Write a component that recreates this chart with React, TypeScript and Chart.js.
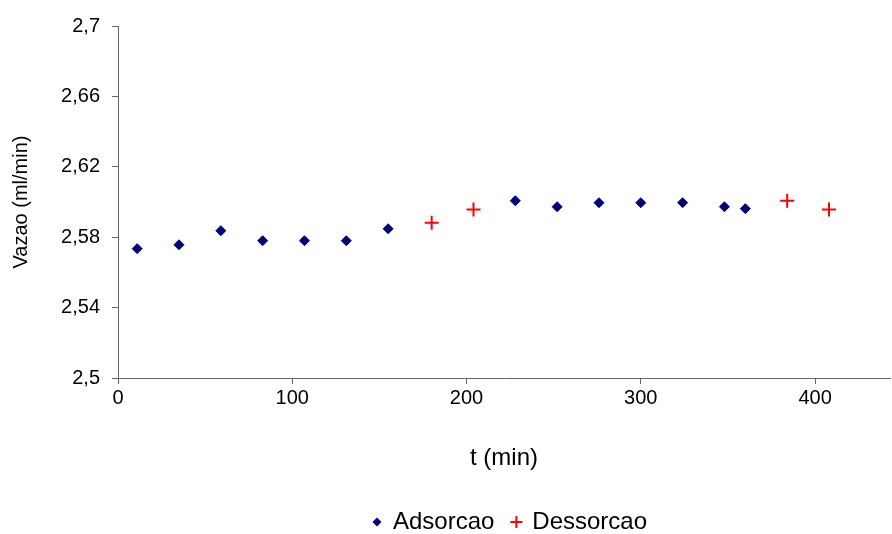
import React, { useEffect, useRef } from "react";
import { Chart, registerables } from "chart.js";

Chart.register(...registerables);

// Flow rate readings (ml/min) against time (min)
const ADS_T = [11, 35, 59, 83, 107, 131, 155, 228, 252, 276, 300, 324, 348, 360];
const ADS_V = [2.5735, 2.5757, 2.5837, 2.578, 2.578, 2.578, 2.5848, 2.6007, 2.5973, 2.5996, 2.5996, 2.5996, 2.5973, 2.5962];
const DES_T = [180, 204, 384, 408];
const DES_V = [2.5882, 2.5958, 2.6007, 2.5958];

const X_TICKS = [0, 100, 200, 300, 400];
const Y_TICKS = [2.5, 2.54, 2.58, 2.62, 2.66, 2.7];

const FONT = "'Liberation Sans', Arial, sans-serif";
const NAVY = "#000080";
const RED = "#ff0000";

function diamondMarker(): HTMLCanvasElement {
  const c = document.createElement("canvas");
  c.width = 10;
  c.height = 10;
  const g = c.getContext("2d")!;
  g.fillStyle = NAVY;
  g.beginPath();
  g.moveTo(5, 0.5);
  g.lineTo(9.5, 5);
  g.lineTo(5, 9.5);
  g.lineTo(0.5, 5);
  g.closePath();
  g.fill();
  return c;
}

function plusMarker(): HTMLCanvasElement {
  const c = document.createElement("canvas");
  c.width = 14;
  c.height = 14;
  const g = c.getContext("2d")!;
  g.strokeStyle = RED;
  g.lineWidth = 2;
  g.beginPath();
  g.moveTo(7, 1);
  g.lineTo(7, 13);
  g.moveTo(1, 7);
  g.lineTo(13, 7);
  g.stroke();
  return c;
}

// Centre the legend under the plot area rather than the whole canvas
const legendShift = {
  id: "legendShift",
  afterLayout(chart: any) {
    const lg = chart.legend;
    if (lg) {
      lg.left = chart.chartArea.left + 6;
      lg.right = chart.chartArea.right + 6;
    }
  },
};

export default function App() {
  const ref = useRef<HTMLCanvasElement>(null);

  useEffect(() => {
    document.body.style.margin = "0";
    const legendMarkers = [diamondMarker(), plusMarker()];
    const chart = new Chart(ref.current!, {
      type: "scatter",
      data: {
        datasets: [
          {
            label: "Adsorcao",
            data: ADS_T.map((t, i) => ({ x: t, y: ADS_V[i] })),
            pointStyle: "rectRot",
            pointRadius: 5,
            pointBackgroundColor: NAVY,
            pointBorderColor: NAVY,
            pointBorderWidth: 1,
          },
          {
            label: "Dessorcao",
            data: DES_T.map((t, i) => ({ x: t, y: DES_V[i] })),
            pointStyle: "cross",
            pointRadius: 7,
            pointBorderColor: RED,
            pointBackgroundColor: RED,
            pointBorderWidth: 2,
          },
        ],
      },
      plugins: [legendShift],
      options: {
        animation: false,
        responsive: false,
        layout: { autoPadding: false, padding: { top: 26, right: 2, left: 0, bottom: 0 } },
        plugins: {
          tooltip: { enabled: false },
          legend: {
            position: "bottom",
            labels: {
              usePointStyle: true,
              pointStyleWidth: 8,
              padding: 18,
              color: "#000",
              font: { family: FONT, size: 24 },
              generateLabels: (ch) =>
                Chart.defaults.plugins.legend.labels
                  .generateLabels(ch)
                  .map((item, i) => ({ ...item, pointStyle: legendMarkers[i] as any })),
            },
          },
        },
        scales: {
          x: {
            type: "linear",
            min: 0,
            max: 443,
            afterBuildTicks: (s) => {
              s.ticks = X_TICKS.map((v) => ({ value: v }));
            },
            afterFit: (s: any) => {
              s.height = 114;
              s.paddingLeft = 0;
              s.paddingRight = 0;
            },
            border: { color: "#666", width: 1 },
            grid: { display: true, drawOnChartArea: false, drawTicks: true, tickLength: 6, color: "#666" },
            ticks: { color: "#000", padding: 2, font: { family: FONT, size: 20 } },
            title: {
              display: true,
              text: "t (min)",
              color: "#000",
              font: { family: FONT, size: 24 },
              padding: { top: 0, bottom: 19 },
            },
          },
          y: {
            type: "linear",
            min: 2.5,
            max: 2.7,
            afterBuildTicks: (s) => {
              s.ticks = Y_TICKS.map((v) => ({ value: v }));
            },
            afterFit: (s) => {
              s.width = 118;
            },
            border: { color: "#666", width: 1 },
            grid: { display: true, drawOnChartArea: false, drawTicks: true, tickLength: 6, color: "#666" },
            ticks: {
              color: "#000",
              padding: 12,
              font: { family: FONT, size: 20 },
              callback: (v) => String(Number(Number(v).toFixed(2))).replace(".", ","),
            },
            title: {
              display: true,
              text: "Vazao (ml/min)",
              color: "#000",
              font: { family: FONT, size: 20 },
              padding: { top: 9, bottom: 0 },
            },
          },
        },
      },
    });
    return () => chart.destroy();
  }, []);

  return (
    <div style={{ width: 892, height: 534, overflow: "hidden", background: "#fff" }}>
      <canvas ref={ref} width={892} height={544} />
    </div>
  );
}
